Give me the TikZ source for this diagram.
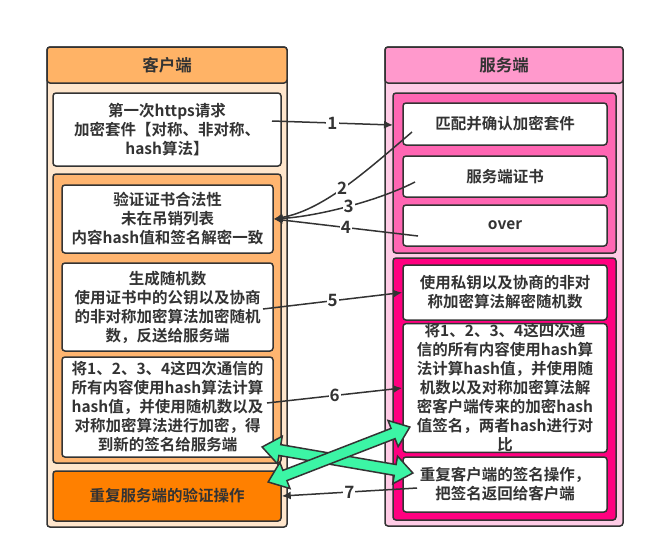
\documentclass[tikz,border=0pt]{standalone}
\usepackage{fontspec}
\setmainfont{Noto Sans CJK SC}[BoldFont={Noto Sans CJK SC Bold}]
\usepackage{tikz}
\usetikzlibrary{arrows.meta}
\definecolor{figline}{RGB}{51,51,51}
\definecolor{chead}{RGB}{255,179,102}
\definecolor{cbody}{RGB}{255,230,204}
\definecolor{cgrp}{RGB}{255,181,112}
\definecolor{credo}{RGB}{255,128,0}
\definecolor{shead}{RGB}{255,153,204}
\definecolor{sbody}{RGB}{255,204,230}
\definecolor{sgrpa}{RGB}{255,102,179}
\definecolor{sgrpb}{RGB}{255,0,128}
\definecolor{figgreen}{RGB}{60,245,165}
\tikzset{
  pnl/.style ={draw=figline, line width=1.5pt, rounded corners=3pt},
  bx/.style  ={pnl, fill=white, align=center, inner sep=0pt, text=figline,
               font=\fontsize{15.5}{19}\selectfont\bfseries},
  hd/.style  ={text=figline, font=\fontsize{16.5}{20}\selectfont\bfseries},
  lab/.style ={fill=white, text=figline, inner sep=1pt,
               font=\fontsize{17}{20}\selectfont\bfseries},
  ptr/.style ={draw=figline, line width=1.5pt, -{Latex[length=9pt,width=8pt]}},
  dbl/.style ={draw=figline, line width=1.5pt, fill=figgreen, line join=miter},
}
\begin{document}
\begin{tikzpicture}[x=1pt,y=-1pt]
  \useasboundingbox (0,0) rectangle (656,558);
  % client side
  \draw[pnl,fill=cbody] (47,47) rectangle (287,527);
  \draw[pnl,fill=chead] (47,47) rectangle (287,83);
  \node[hd] (ctitle) at (167,65) {客户端};
  \node[bx,minimum width=228pt,minimum height=73pt] (req) at (167,129.5)
    {第一次https请求\\加密套件【对称、非对称、\\hash算法】};
  \draw[pnl,fill=cgrp] (53,174) rectangle (281,463);
  \node[bx,minimum width=211pt,minimum height=68pt] (verify) at (167.5,219)
    {验证证书合法性\\未在吊销列表\\内容hash值和签名解密一致};
  \node[bx,minimum width=211pt,minimum height=88pt] (rand) at (167.5,307)
    {生成随机数\\使用证书中的公钥以及协商\\的非对称加密算法加密随机\\数，反送给服务端};
  \node[bx,minimum width=211pt,minimum height=100pt] (csign) at (167.5,407)
    {将1、2、3、4这四次通信的\\所有内容使用hash算法计算\\hash值，并使用随机数以及\\对称加密算法进行加密，得\\到新的签名给服务端};
  \node[bx,fill=credo,minimum width=228pt,minimum height=50pt] (redo) at (167,496)
    {重复服务端的验证操作};
  % server side
  \draw[pnl,fill=sbody] (385,47) rectangle (623,526);
  \draw[pnl,fill=shead] (385,47) rectangle (623,83);
  \node[hd] (stitle) at (504,65) {服务端};
  \draw[pnl,fill=sgrpa] (393,93) rectangle (616,253);
  \node[bx,minimum width=204pt,minimum height=42pt] (match) at (505,124)
    {匹配并确认加密套件};
  \node[bx,minimum width=204pt,minimum height=41pt] (cert) at (505,176.5)
    {服务端证书};
  \node[bx,minimum width=204pt,minimum height=41pt] (over) at (505,225.5)
    {over};
  \draw[pnl,fill=sgrpb] (393,258) rectangle (616,520);
  \node[bx,minimum width=204pt,minimum height=55pt] (decrypt) at (505,292.5)
    {使用私钥以及协商的非对\\称加密算法解密随机数};
  \node[bx,minimum width=204pt,minimum height=124pt] (check) at (505,388)
    {将1、2、3、4这四次通\\信的所有内容使用hash算\\法计算hash值，并使用随\\机数以及对称加密算法解\\密客户端传来的加密hash\\值签名，两者hash进行对\\比};
  \node[bx,minimum width=204pt,minimum height=55pt] (resign) at (505,484.5)
    {重复客户端的签名操作，\\把签名返回给客户端};
  % message ends
  \coordinate (m1s) at (272,121);
  \coordinate (m1e) at (393,125);
  \coordinate (m2s) at (412,132);
  \coordinate (m3s) at (415,182);
  \coordinate (m4s) at (418,236);
  \coordinate (m5s) at (263,309);
  \coordinate (m6s) at (267,403);
  \coordinate (m7s) at (417,488);
  \draw[ptr] (m1s) -- node[lab] {1} (m1e);
  \draw[ptr] (m2s) .. controls (362,175) and (322,210) .. node[lab] {2} (verify.east);
  \draw[ptr] (m3s) .. controls (380,200) and (320,216) .. node[lab] {3} (verify.east);
  \draw[ptr] (m4s) -- node[lab] {4} (verify.east);
  \draw[ptr] (m5s) -- node[lab] {5} (decrypt.west);
  \draw[ptr] (m6s) -- node[lab] {6} (check.west);
  \draw[ptr] (m7s) -- node[lab] {7} (redo.east);
  % exchange of signatures
  \begin{scope}[shift={(337.5,460)},rotate=-9.8]
  \draw[dbl] (-76.5,0) -- (-58.5,-14) -- (-58.5,-5.5) -- (58.5,-5.5) -- (58.5,-14)
    -- (76.5,0) -- (58.5,14) -- (58.5,5.5) -- (-58.5,5.5) -- (-58.5,14) -- cycle;
  \end{scope}
  \begin{scope}[shift={(339,454.5)},rotate=21.2]
  \draw[dbl] (-76,0) -- (-58,-14) -- (-58,-5.5) -- (58,-5.5) -- (58,-14)
    -- (76,0) -- (58,14) -- (58,5.5) -- (-58,5.5) -- (-58,14) -- cycle;
  \end{scope}
\end{tikzpicture}
\end{document}
